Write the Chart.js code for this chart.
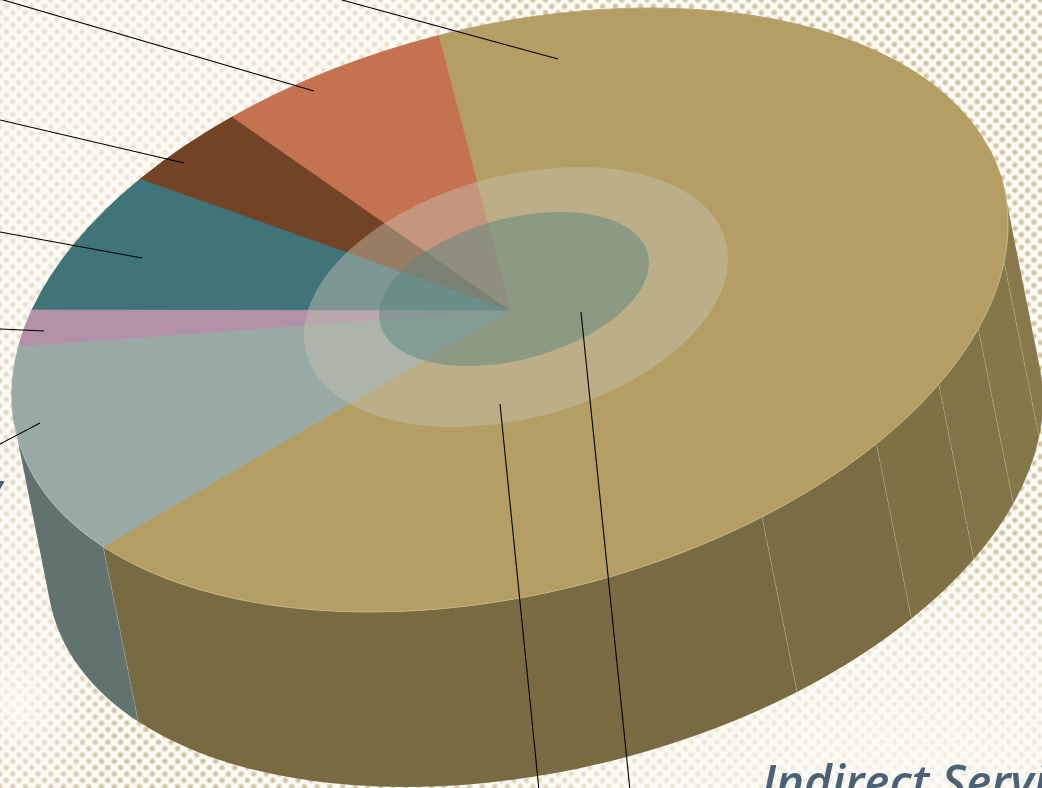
<!DOCTYPE html>
<html>
<head>
<meta charset="utf-8">
<script src="https://cdn.jsdelivr.net/npm/chart.js@4"></script>
<style>
html,body{margin:0;padding:0;overflow:hidden;background:#fdfbf5}
#page{position:relative;width:1042px;height:788px;overflow:hidden;
 background-color:#fdfbf5;
 background-image:
  radial-gradient(ellipse 460px 240px at 900px 780px,rgba(253,251,245,.82),rgba(253,251,245,.6) 60%,rgba(253,251,245,0)),
  radial-gradient(ellipse 100px 110px at 20px 710px,rgba(253,251,245,.72),rgba(253,251,245,0)),
  radial-gradient(ellipse 110px 190px at 10px 560px,rgba(253,251,245,.55),rgba(253,251,245,.35) 70%,rgba(253,251,245,0)),
  radial-gradient(ellipse 460px 330px at 110px 130px,rgba(253,251,245,.62),rgba(253,251,245,.48) 70%,rgba(253,251,245,0)),
  radial-gradient(circle at 50% 50%,rgba(190,176,135,.78) 1.3px,rgba(190,176,135,.36) 2.6px,rgba(190,176,135,0) 3.9px),
  radial-gradient(circle at 50% 50%,rgba(190,176,135,.78) 1.3px,rgba(190,176,135,.36) 2.6px,rgba(190,176,135,0) 3.9px);
 background-size:auto,auto,auto,auto,12.7px 12.7px,12.7px 12.7px;
 background-position:0 0,0 0,0 0,0 0,0 0,6.35px 6.35px;
 background-repeat:no-repeat,no-repeat,no-repeat,no-repeat,repeat,repeat;}
canvas{position:absolute;left:0;top:0}
.lbl{position:absolute;font-family:"Open Sans",sans-serif;font-style:italic;font-weight:600;color:#4a6176;white-space:nowrap;line-height:1}
</style>
</head>
<body>
<div id="page">
<canvas id="c" width="1042" height="788"></canvas>
<div class="lbl" style="left:762px;top:757px;font-size:47.5px">Indirect Services</div>
<div class="lbl" style="left:-21px;top:465px;font-size:47.5px">y</div>
</div>
<script>
const categories=["Indirect Services A","Indirect Services B","Indirect Services C","Indirect Services D","Indirect Services E","Indirect Services F","Slice G","Slice H","Slice I","Slice J","Slice K"];
const values=[29.3,3.53,2.97,3.35,4.71,23.66,12.41,1.95,7.13,3.89,7.10];
const topColors=["#b49e64","#b49e64","#b49e64","#b49e64","#b49e64","#b49e64","#99aaa4","#b392a9","#407479","#734325","#c57251"];
const sideColors=["#87794c","#84774a","#817448","#7e7145","#7a6d43","#786b41","#61726f","#7d6676","#2c5155","#50301a","#894f38"];
const startRotation=-8.3;

// projection of the pie plane onto the page
const view={x:510,y:310,ax:498,bx:-85,dy:289.8,depthX:35,depthY:175};
const rings=[
 {x:516,y:297,ax:212,bx:-38,dy:124.3,color:"rgba(197,195,178,.45)"},
 {x:514,y:289,ax:135,bx:-26.2,dy:72.4,color:"rgba(91,134,128,.5)"}
];
const leaders=[[0,-1,314,91],[342,0,558,59],[0,120,184,163],[0,232,142,258],[0,329,44,331],[0,444,40,423],[500,404,540,800],[581,312,631,800]];

function applyView(ctx,arc){
 const R=arc.outerRadius,a=view.ax/R,b=view.bx/R,d=view.dy/R;
 ctx.transform(a,b,0,d,view.x-a*arc.x,view.y-b*arc.x-d*arc.y);
}
const pie3d={
 id:"pie3d",
 beforeDatasetsDraw(chart){
  const ctx=chart.ctx,arcs=chart.getDatasetMeta(0).data,a0=arcs[0];
  const R=a0.outerRadius;
  const ox=view.depthX/view.ax*R;
  const oy=(view.depthY-view.bx*view.depthX/view.ax)/view.dy*R;
  // the wall faces the viewer only between the two tangent angles
  const dir=Math.atan2(oy,ox),lo=dir-Math.PI/2,hi=dir+Math.PI/2,TAU=Math.PI*2;
  ctx.save();
  applyView(ctx,a0);
  arcs.forEach((el,i)=>{
   for(let k=-1;k<=1;k++){
    const s=Math.max(el.startAngle+k*TAU,lo),e=Math.min(el.endAngle+k*TAU,hi);
    if(e<=s)continue;
    ctx.beginPath();
    ctx.arc(el.x,el.y,R,s,e);
    ctx.arc(el.x+ox,el.y+oy,R,e,s,true);
    ctx.closePath();
    ctx.fillStyle=sideColors[i];
    ctx.fill();
   }
  });
  arcs.forEach(el=>{
   for(let k=-1;k<=1;k++){
    const t=el.startAngle+k*TAU;
    if(t<=lo||t>=hi)continue;
    const px=el.x+R*Math.cos(t),py=el.y+R*Math.sin(t);
    ctx.beginPath();
    ctx.moveTo(px,py);ctx.lineTo(px+ox,py+oy);
    ctx.save();ctx.setTransform(1,0,0,1,0,0);
    ctx.strokeStyle="rgba(255,255,255,.2)";ctx.lineWidth=.8;ctx.stroke();
    ctx.restore();
   }
  });
  ctx.restore();
  ctx.save();
  applyView(ctx,a0);
 },
 afterDatasetsDraw(chart){
  const ctx=chart.ctx,a0=chart.getDatasetMeta(0).data[0];
  ctx.restore();
  // light rim along the front edge
  ctx.save();
  applyView(ctx,a0);
  ctx.beginPath();
  ctx.arc(a0.x,a0.y,a0.outerRadius,-6*Math.PI/180,174*Math.PI/180);
  ctx.setTransform(1,0,0,1,0,0);
  ctx.strokeStyle="rgba(255,255,255,.3)";ctx.lineWidth=.7;ctx.stroke();
  ctx.restore();
  rings.forEach(r=>{
   ctx.save();
   ctx.transform(r.ax,r.bx,0,r.dy,r.x,r.y);
   ctx.beginPath();ctx.arc(0,0,1,0,Math.PI*2);
   ctx.fillStyle=r.color;ctx.fill();
   ctx.restore();
  });
  ctx.save();
  ctx.strokeStyle="#000";ctx.lineWidth=1.1;
  leaders.forEach(l=>{ctx.beginPath();ctx.moveTo(l[0],l[1]);ctx.lineTo(l[2],l[3]);ctx.stroke();});
  ctx.restore();
 }
};
new Chart(document.getElementById("c"),{
 type:"pie",
 data:{labels:categories,datasets:[{data:values,backgroundColor:topColors,borderColor:topColors,borderWidth:1,clip:false}]},
 options:{
  responsive:false,animation:false,rotation:startRotation,
  layout:{padding:0},
  plugins:{legend:{display:false},tooltip:{enabled:false}}
 },
 plugins:[pie3d]
});
</script>
</body>
</html>
